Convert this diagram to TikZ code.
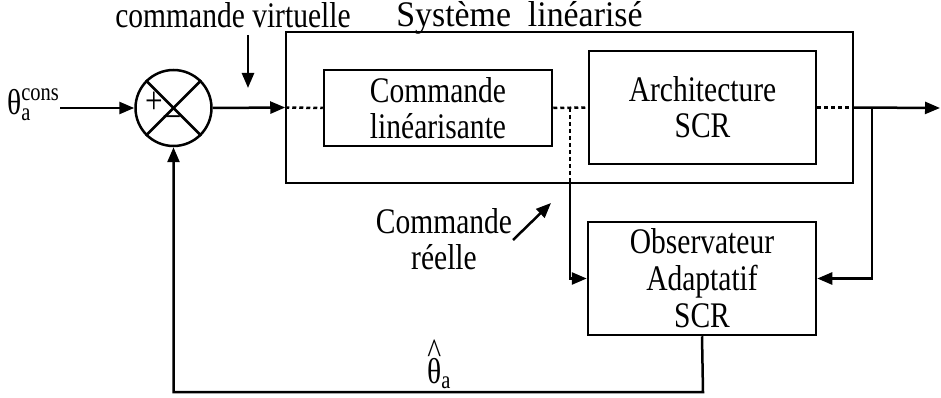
\documentclass[tikz,border=0pt]{standalone}
\usepackage{fontspec}
\setmainfont{Liberation Serif}[FakeStretch=0.82]
\newfontfamily\titlefont{Liberation Serif}[FakeStretch=0.94]
\usetikzlibrary{arrows.meta}
\begin{document}
\begin{tikzpicture}[x=1pt,y=-1pt,
  font=\fontsize{36}{36}\selectfont,
  ln/.style={line width=2.5pt},
  arr/.style={line width=2.5pt,-{Triangle[length=15pt,width=12pt]}},
  dots/.style={line width=2.5pt,dash pattern=on 4pt off 3pt},
  blockbox/.style={draw,line width=2.5pt,inner sep=0pt,align=center},
  lbl/.style={inner sep=0pt}]
\useasboundingbox (0,0) rectangle (941,398);
% summing junction
\node[circle,draw,line width=2.5pt,minimum size=76pt,inner sep=0pt] (sum) at (173.5,108) {};
\draw[ln] (sum.north west) -- (sum.south east);
\draw[ln] (sum.north east) -- (sum.south west);
\node[lbl,font=\fontsize{38}{38}\selectfont] (plus) at (154,103) {+};
\node[lbl,font=\fontsize{38}{38}\selectfont] (minus) at (172,121) {–};
% blocks
\node[draw,line width=1.5pt,minimum width=567pt,minimum height=151pt,inner sep=0pt] (sys) at (569.5,107.5) {};
\node[blockbox,minimum width=228pt,minimum height=76pt] (lin) at (438,108) {Commande\\linéarisante};
\node[blockbox,minimum width=227pt,minimum height=113pt] (arch) at (702.5,107.5) {Architecture\\SCR};
\node[blockbox,minimum width=228pt,minimum height=113pt,font=\fontsize{36}{37}\selectfont] (obs) at (702,278.5) {Observateur\\Adaptatif\\SCR};
% labels
\node[lbl,anchor=base,font=\fontsize{36}{36}\titlefont] (title) at (519.5,27) {Système~~linéarisé};
\node[lbl,anchor=base] (virt) at (233,28) {commande virtuelle};
\node[lbl,align=center] (reel) at (444,239) {Commande\\réelle};
\node[lbl,anchor=base west] (thc) at (7,115) {θ\rlap{\raisebox{-0.15em}{\fontsize{25}{25}\selectfont a}}\raisebox{0.4em}{\fontsize{25}{25}\selectfont cons}};
\node[lbl,anchor=base west] (thh) at (427,383) {\ooalign{θ\cr\hidewidth\raisebox{0.55em}{\^{}}\hidewidth\cr}\raisebox{-0.15em}{\fontsize{25}{25}\selectfont a}};
% coordinates
\coordinate (in) at (60,108);
\coordinate (out) at (940,108);
\coordinate (b1) at (872,108);
\coordinate (b2) at (570,108);
\coordinate (fb) at (703,392);
\coordinate (v1) at (248,35);
\coordinate (v2) at (248,88);
\coordinate (r1) at (513,240);
\coordinate (r2) at (551,203);
% connectors
\draw[arr] (in) -- (sum.west);
\draw[arr] (sum.east) -- (sys.west);
\draw[dots] (sys.west) -- (lin.west);
\draw[dots] (lin.east) -- (arch.west);
\draw[dots] (arch.east) -- (sys.east);
\draw[arr] (sys.east) -- (out);
\draw[arr] (b1) |- (obs.east);
\draw[dots] (b2) -- (b2 |- sys.south);
\draw[arr] (b2 |- sys.south) |- (obs.west);
\draw[arr] (obs.south) -- (fb) -| (sum.south);
\draw[arr] (v1) -- (v2);
\draw[arr] (r1) -- (r2);
\end{tikzpicture}
\end{document}
